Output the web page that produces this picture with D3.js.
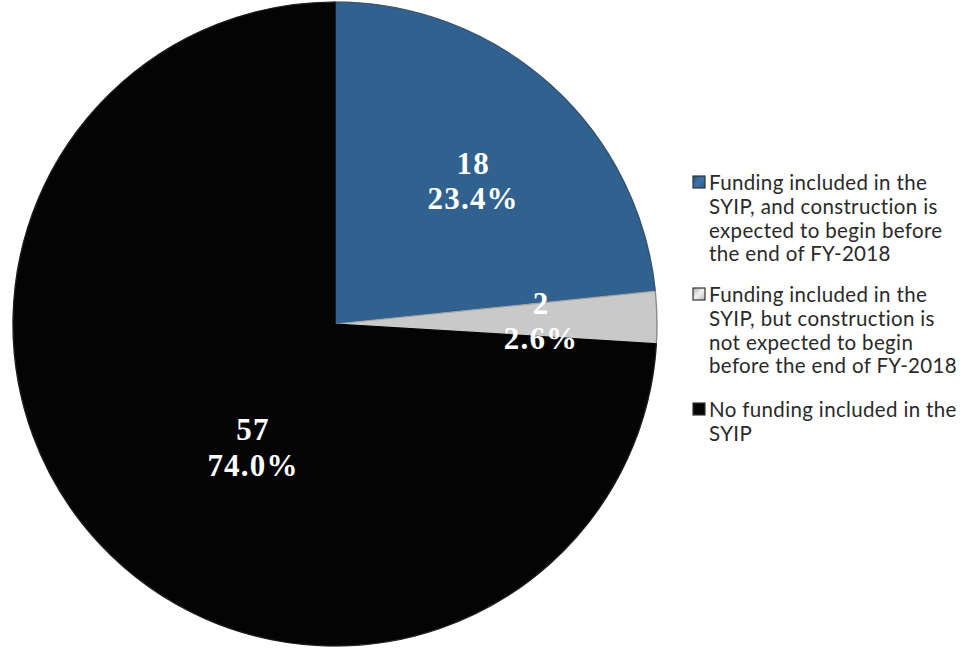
<!DOCTYPE html>
<html>
<head>
<meta charset="utf-8">
<script src="https://cdn.jsdelivr.net/npm/d3@7"></script>
<style>
  html, body { margin: 0; padding: 0; background: #fff; }
  svg { display: block; }
</style>
</head>
<body>
<svg id="chart" width="974" height="657"></svg>
<script>
// Project funding status
const categories = [
  "Funding included in the SYIP, and construction is expected to begin before the end of FY-2018",
  "Funding included in the SYIP, but construction is not expected to begin before the end of FY-2018",
  "No funding included in the SYIP"
];
const counts = [18, 2, 57];
const percents = ["23.4%", "2.6%", "74.0%"];
const legendLines = [
  ["Funding included in the", "SYIP, and construction is", "expected to begin before", "the end of FY-2018"],
  ["Funding included in the", "SYIP, but construction is", "not expected to begin", "before the end of FY-2018"],
  ["No funding included in the", "SYIP"]
];
const colors = ["#30618f", "#c9c9c9", "#040404"];

const svg = d3.select("#chart");
const cx = 335, cy = 324, r = 322;

const color = d3.scaleOrdinal().domain(categories).range(colors);
const data = categories.map((c, i) => ({ cat: c, count: counts[i], pct: percents[i] }));

const pie = d3.pie().sort(null).value(d => d.count);
const arcs = pie(data);
const arc = d3.arc().innerRadius(0).outerRadius(r);

const g = svg.append("g").attr("transform", `translate(${cx},${cy})`);

g.selectAll("path.slice")
  .data(arcs)
  .join("path")
  .attr("class", "slice")
  .attr("d", arc)
  .attr("fill", d => color(d.data.cat))
  .attr("stroke", d => d3.color(color(d.data.cat)).darker(0.6))
  .attr("stroke-width", 1.2);

// subtle rim
g.append("circle").attr("r", r).attr("fill", "none")
  .attr("stroke", "#555").attr("stroke-opacity", 0.3).attr("stroke-width", 1.5);

// value labels: radial position and angular nudge per slice
const labelPos = [
  { r: 0.62, da: 0.03, dy: 0 },
  { r: 0.64, da: 0, dy: 0 },
  { r: 0.457, da: -0.225, dy: 0 }
];
const labelFont = "'Liberation Serif', 'DejaVu Serif', serif";
arcs.forEach((a, i) => {
  const mid = (a.startAngle + a.endAngle) / 2 + labelPos[i].da;
  const rr = r * labelPos[i].r;
  const x = Math.sin(mid) * rr;
  const y = -Math.cos(mid) * rr + labelPos[i].dy;
  const t = g.append("text")
    .attr("x", x).attr("y", y)
    .attr("text-anchor", "middle")
    .attr("fill", "#fff")
    .attr("font-family", labelFont)
    .attr("font-weight", "bold")
    .attr("font-size", 31)
    .attr("letter-spacing", 1.2);
  t.append("tspan").attr("x", x).attr("dy", "-0.2em").text(a.data.count);
  t.append("tspan").attr("x", x).attr("dy", "1.15em").text(a.data.pct);
});

// legend
const legend = svg.append("g").attr("transform", "translate(692,0)");
const blockTops = [183, 295, 410];
const lineH = 23.8;
legendLines.forEach((lines, i) => {
  const top = blockTops[i];
  const grad = svg.append("defs").append("linearGradient")
    .attr("id", "lg" + i).attr("x1", 0).attr("y1", 0).attr("x2", 1).attr("y2", 1);
  const base = d3.color(colors[i]);
  grad.append("stop").attr("offset", 0).attr("stop-color", base.darker(0.4));
  grad.append("stop").attr("offset", 0.5).attr("stop-color", base.brighter(0.5));
  grad.append("stop").attr("offset", 1).attr("stop-color", base.darker(0.2));
  legend.append("rect")
    .attr("x", 1).attr("y", top - 7).attr("width", 12).attr("height", 12)
    .attr("fill", i === 2 ? colors[i] : `url(#lg${i})`)
    .attr("stroke", "#333").attr("stroke-width", 1.2);
  const t = legend.append("text")
    .attr("font-family", "Lato, 'Open Sans', sans-serif")
    .attr("font-size", 20.5)
    .attr("letter-spacing", 0.35)
    .attr("fill", "#2a2a2a");
  lines.forEach((ln, j) => {
    t.append("tspan").attr("x", 17).attr("y", top + 7 + j * lineH).text(ln);
  });
});
</script>
</body>
</html>
